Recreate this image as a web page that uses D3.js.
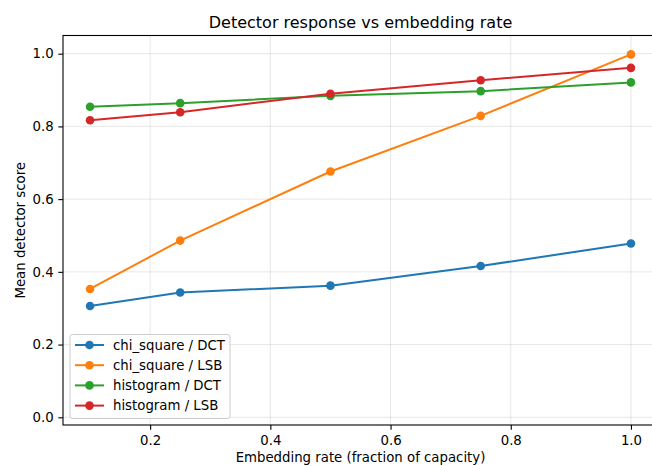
<!DOCTYPE html>
<html><head><meta charset="utf-8">
<script src="https://cdn.jsdelivr.net/npm/d3@7"></script>
<style>body{margin:0;background:#fff}svg{display:block;font-family:"DejaVu Sans",sans-serif}</style>
</head><body><svg id="c" width="652" height="466"></svg>
<script>
const rates = [0.1, 0.25, 0.5, 0.75, 1.0];
const seriesNames = ["chi_square / DCT", "chi_square / LSB", "histogram / DCT", "histogram / LSB"];
const chiDCT = [0.306, 0.343, 0.362, 0.416, 0.478];
const chiLSB = [0.353, 0.486, 0.676, 0.829, 0.998];
const histDCT = [0.854, 0.864, 0.884, 0.897, 0.921];
const histLSB = [0.817, 0.839, 0.890, 0.927, 0.961];
const colors = ["#1f77b4", "#ff7f0e", "#2ca02c", "#d62728"];
const xTicks = [0.2, 0.4, 0.6, 0.8, 1.0];
const yTicks = [0.0, 0.2, 0.4, 0.6, 0.8, 1.0];
const allSeries = [chiDCT, chiLSB, histDCT, histLSB];

const svg = d3.select("#c");
const L = 63, R = 658, T = 35.5, B = 425;
const x = d3.scaleLinear().domain([0.055, 1.045]).range([L, R]);
const y = d3.scaleLinear().domain([-0.0212, 1.05]).range([B, T]);

const defs = svg.append("defs");
defs.append("clipPath").attr("id","clip").append("rect").attr("x",L).attr("y",T).attr("width",R-L).attr("height",B-T);

// grid
const g = svg.append("g");
g.selectAll(".gx").data(xTicks).join("line").attr("x1",d=>x(d)).attr("x2",d=>x(d)).attr("y1",T).attr("y2",B)
 .attr("stroke","#b0b0b0").attr("stroke-opacity",0.3).attr("stroke-width",1);
g.selectAll(".gy").data(yTicks).join("line").attr("x1",L).attr("x2",R).attr("y1",d=>y(d)).attr("y2",d=>y(d))
 .attr("stroke","#b0b0b0").attr("stroke-opacity",0.3).attr("stroke-width",1);

// lines
const line = d3.line().x((d,i)=>x(rates[i])).y(d=>y(d));
const plot = svg.append("g").attr("clip-path","url(#clip)");
allSeries.forEach((s,k)=>{
  plot.append("path").attr("d",line(s)).attr("fill","none").attr("stroke",colors[k]).attr("stroke-width",2);
  plot.selectAll(null).data(s).join("circle").attr("cx",(d,i)=>x(rates[i])).attr("cy",d=>y(d)).attr("r",4.3).attr("fill",colors[k]);
});

// axes
const xAxis = d3.axisBottom(x).tickValues(xTicks).tickFormat(d3.format(".1f")).tickSize(4.7).tickPadding(6.3);
const yAxis = d3.axisLeft(y).tickValues(yTicks).tickFormat(d3.format(".1f")).tickSize(4.7).tickPadding(4.7);
const ax = svg.append("g").attr("transform",`translate(0,${B})`).call(xAxis);
const ay = svg.append("g").attr("transform",`translate(${L},0)`).call(yAxis);
[ax,ay].forEach(a=>{
  a.attr("font-size",null).attr("font-family",null);
  a.select(".domain").remove();
  a.selectAll(".tick line").attr("stroke","#000").attr("stroke-width",1.1);
  a.selectAll(".tick text").attr("fill","#000").style("font-size","13.3px").style("font-family","DejaVu Sans");
});
// spines
svg.append("rect").attr("x",L).attr("y",T).attr("width",R-L).attr("height",B-T).attr("fill","none").attr("stroke","#000").attr("stroke-width",1.1);

// labels
svg.append("text").attr("x",(L+R)/2).attr("y",27.5).attr("text-anchor","middle").style("font-size","16px").text("Detector response vs embedding rate");
svg.append("text").attr("x",(L+R)/2).attr("y",462).attr("text-anchor","middle").style("font-size","13.3px").text("Embedding rate (fraction of capacity)");
svg.append("text").attr("transform",`translate(24.5,${(T+B)/2}) rotate(-90)`).attr("text-anchor","middle").style("font-size","13.3px").text("Mean detector score");

// legend
const lg = svg.append("g");
lg.append("rect").attr("x",70).attr("y",334.5).attr("width",160).attr("height",84).attr("rx",2.5)
  .attr("fill","#fff").attr("fill-opacity",0.8).attr("stroke","#cccccc").attr("stroke-width",1);
seriesNames.forEach((n,k)=>{
  const yy = 345 + k*20.2;
  lg.append("line").attr("x1",75).attr("x2",104).attr("y1",yy).attr("y2",yy).attr("stroke",colors[k]).attr("stroke-width",2);
  lg.append("circle").attr("cx",89.5).attr("cy",yy).attr("r",4.3).attr("fill",colors[k]);
  lg.append("text").attr("x",113).attr("y",yy+4.8).style("font-size","13.3px").text(n);
});
</script></body></html>
